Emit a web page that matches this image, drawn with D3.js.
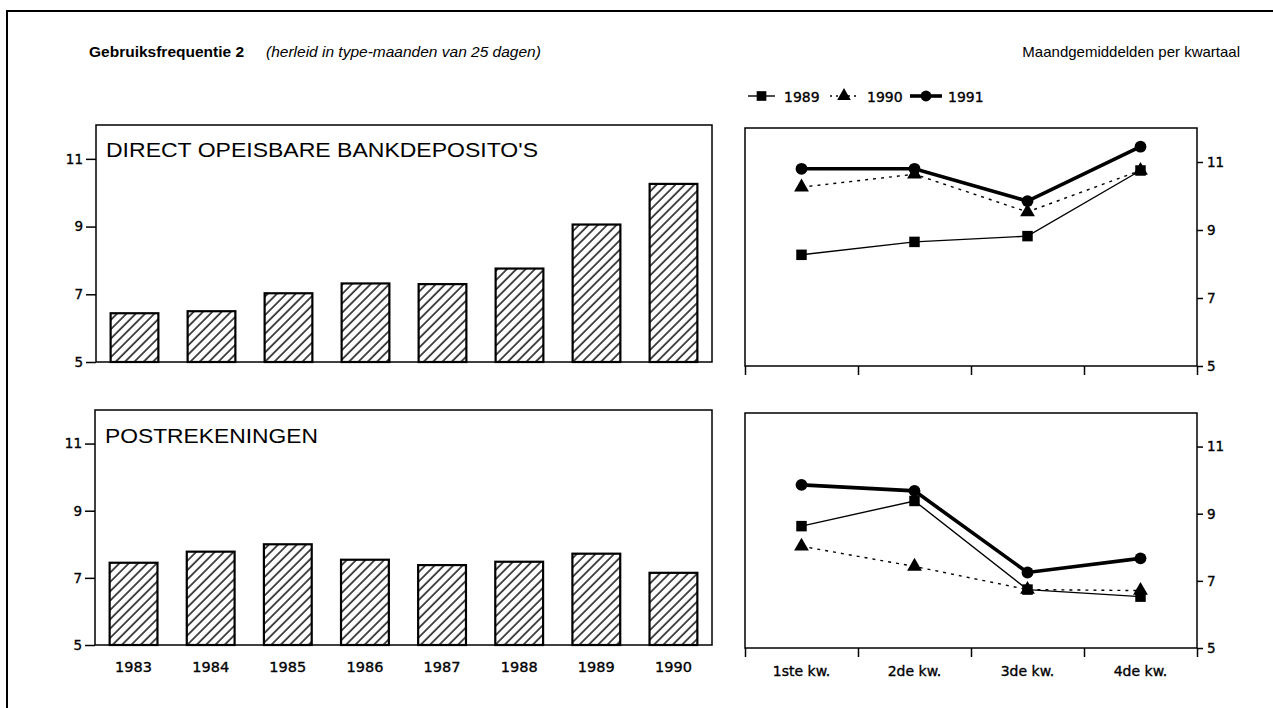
<!DOCTYPE html>
<html>
<head>
<meta charset="utf-8">
<script src="https://cdn.jsdelivr.net/npm/d3@7"></script>
<style>
  body { margin: 0; background: #fff; }
  svg { display: block; font-family: "Liberation Sans", Arial, sans-serif; }
  .axis text, .legend text { fill: #000; font-family: "DejaVu Sans", sans-serif; stroke: #000; stroke-width: 0.35; }
  .axis line, .axis path { stroke: #000; stroke-width: 1.5; }
</style>
</head>
<body>
<svg id="chart" width="1273" height="708"></svg>
<script>
// values
const years = ['1983', '1984', '1985', '1986', '1987', '1988', '1989', '1990'];
const bankBars = [6.44, 6.5, 7.03, 7.32, 7.3, 7.76, 9.06, 10.26];
const postBars = [7.45, 7.78, 8.0, 7.54, 7.38, 7.48, 7.72, 7.15];

const quarters = ['1ste kw.', '2de kw.', '3de kw.', '4de kw.'];
const bank1989 = [8.27, 8.65, 8.82, 10.75];
const bank1990 = [10.26, 10.64, 9.53, 10.75];
const bank1991 = [10.8, 10.8, 9.85, 11.45];
const post1989 = [8.63, 9.38, 6.74, 6.53];
const post1990 = [8.03, 7.43, 6.74, 6.71];
const post1991 = [9.86, 9.68, 7.25, 7.67];

const yTicks = [5, 7, 9, 11];
const yDomain = [5, 12];

const seriesStyle = {
  1989: { width: 1.4, dash: null, symbol: d3.symbolSquare, size: 110 },
  1990: { width: 1.4, dash: '3,5', symbol: d3.symbolTriangle, size: 95 },
  1991: { width: 3.6, dash: null, symbol: d3.symbolCircle, size: 110 },
};

const svg = d3.select('#chart');

// hatch fill for bars
svg.append('defs').append('pattern')
    .attr('id', 'hatch')
    .attr('patternUnits', 'userSpaceOnUse')
    .attr('width', 6.6)
    .attr('height', 6.6)
    .attr('patternTransform', 'rotate(45)')
  .append('line')
    .attr('x1', 1).attr('y1', 0)
    .attr('x2', 1).attr('y2', 6.6)
    .attr('stroke', '#000')
    .attr('stroke-width', 1.4);

// page frame (top and left edge only, like the scan)
svg.append('path')
  .attr('d', 'M7,708 V11 H1273')
  .attr('fill', 'none')
  .attr('stroke', '#000')
  .attr('stroke-width', 2);

// headings
svg.append('text')
  .attr('x', 89).attr('y', 57)
  .attr('font-size', 15.5).attr('font-weight', 'bold')
  .text('Gebruiksfrequentie 2');
svg.append('text')
  .attr('x', 266).attr('y', 57)
  .attr('font-size', 15.5).attr('font-style', 'italic')
  .text('(herleid in type-maanden van 25 dagen)');
svg.append('text')
  .attr('x', 1240).attr('y', 57)
  .attr('font-size', 15).attr('text-anchor', 'end')
  .text('Maandgemiddelden per kwartaal');

function barPanel({ top, bottom, left, right, title, titleW, values, titleY, showYears }) {
  const g = svg.append('g');
  const y = d3.scaleLinear().domain(yDomain).range([bottom, top]);
  const x = d3.scaleBand().domain(years).range([left, right])
    .paddingInner(0.38).paddingOuter(0.19);

  g.append('rect')
    .attr('x', left).attr('y', top)
    .attr('width', right - left).attr('height', bottom - top)
    .attr('fill', 'none').attr('stroke', '#000').attr('stroke-width', 1.5);

  const yAxis = g.append('g')
    .attr('class', 'axis')
    .attr('transform', `translate(${left},0)`)
    .call(d3.axisLeft(y).tickValues(yTicks).tickFormat(d3.format('d')).tickSize(10).tickPadding(3));
  yAxis.select('.domain').remove();
  yAxis.selectAll('text').attr('font-size', 13.5);

  g.selectAll('.bar').data(values).join('rect')
    .attr('class', 'bar')
    .attr('x', (d, i) => x(years[i]))
    .attr('y', d => y(d))
    .attr('width', x.bandwidth())
    .attr('height', d => y(yDomain[0]) - y(d))
    .attr('fill', 'url(#hatch)')
    .attr('stroke', '#000')
    .attr('stroke-width', 2.2);

  g.append('text')
    .attr('x', left + 10).attr('y', titleY)
    .attr('font-size', 20)
    .attr('textLength', titleW)
    .attr('lengthAdjust', 'spacingAndGlyphs')
    .text(title);

  if (showYears) {
    const xAxis = g.append('g')
      .attr('class', 'axis')
      .attr('transform', `translate(0,${bottom})`)
      .call(d3.axisBottom(x).tickSize(0).tickPadding(17));
    xAxis.select('.domain').remove();
    xAxis.selectAll('text').attr('font-size', 14.5);
  }
}

function linePanel({ top, bottom, left, right, series, showQuarters, legend }) {
  const g = svg.append('g');
  const y = d3.scaleLinear().domain(yDomain).range([bottom, top]);
  const x = d3.scaleBand().domain(quarters).range([left, right]);
  const edges = d3.scaleLinear().domain([0, quarters.length]).range([left, right]);

  g.append('rect')
    .attr('x', left).attr('y', top)
    .attr('width', right - left).attr('height', bottom - top)
    .attr('fill', 'none').attr('stroke', '#000').attr('stroke-width', 1.5);

  const yAxis = g.append('g')
    .attr('class', 'axis')
    .attr('transform', `translate(${right},0)`)
    .call(d3.axisRight(y).tickValues(yTicks).tickFormat(d3.format('d')).tickSize(6).tickPadding(4));
  yAxis.select('.domain').remove();
  yAxis.selectAll('text').attr('font-size', 13.5);

  const tickAxis = g.append('g')
    .attr('class', 'axis')
    .attr('transform', `translate(0,${bottom})`)
    .call(d3.axisBottom(edges).tickValues(d3.range(quarters.length + 1)).tickSize(9).tickFormat(''));
  tickAxis.select('.domain').remove();

  if (showQuarters) {
    const xAxis = g.append('g')
      .attr('class', 'axis')
      .attr('transform', `translate(0,${bottom})`)
      .call(d3.axisBottom(x).tickSize(0).tickPadding(18));
    xAxis.select('.domain').remove();
    xAxis.selectAll('text').attr('font-size', 14);
  }

  const line = d3.line()
    .x((d, i) => x(quarters[i]) + x.bandwidth() / 2)
    .y(d => y(d));

  series.forEach(({ key, values }) => {
    const st = seriesStyle[key];
    g.append('path')
      .datum(values)
      .attr('d', line)
      .attr('fill', 'none')
      .attr('stroke', '#000')
      .attr('stroke-width', st.width)
      .attr('stroke-dasharray', st.dash);
    g.selectAll(null).data(values).join('path')
      .attr('transform', (d, i) => `translate(${x(quarters[i]) + x.bandwidth() / 2},${y(d)})`)
      .attr('d', d3.symbol(st.symbol, st.size))
      .attr('fill', '#000');
  });

  if (legend) {
    const entries = [
      { key: 1989, lineX: 748, lineW: 27, textX: 784 },
      { key: 1990, lineX: 830, lineW: 28, textX: 867 },
      { key: 1991, lineX: 910, lineW: 32, textX: 948 },
    ];
    const ly = 96;
    const lg = g.append('g').attr('class', 'legend');
    entries.forEach(e => {
      const st = seriesStyle[e.key];
      lg.append('line')
        .attr('x1', e.lineX).attr('x2', e.lineX + e.lineW)
        .attr('y1', ly).attr('y2', ly)
        .attr('stroke', '#000')
        .attr('stroke-width', st.width)
        .attr('stroke-dasharray', e.key === 1990 ? '2,4' : null);
      lg.append('path')
        .attr('transform', `translate(${e.lineX + e.lineW / 2},${ly})`)
        .attr('d', d3.symbol(st.symbol, st.size * 0.85))
        .attr('fill', '#000');
      lg.append('text')
        .attr('x', e.textX).attr('y', ly + 5.5)
        .attr('font-size', 14)
        .text(e.key);
    });
  }
}

barPanel({
  top: 125, bottom: 362, left: 96, right: 712, titleY: 157, titleW: 432,
  title: "DIRECT OPEISBARE BANKDEPOSITO'S", values: bankBars, showYears: false,
});
barPanel({
  top: 410, bottom: 645, left: 95, right: 712, titleY: 443, titleW: 213,
  title: 'POSTREKENINGEN', values: postBars, showYears: true,
});

linePanel({
  top: 128, bottom: 366, left: 745, right: 1197, legend: true, showQuarters: false,
  series: [
    { key: 1991, values: bank1991 },
    { key: 1990, values: bank1990 },
    { key: 1989, values: bank1989 },
  ],
});
linePanel({
  top: 413, bottom: 648, left: 745, right: 1197, legend: false, showQuarters: true,
  series: [
    { key: 1991, values: post1991 },
    { key: 1990, values: post1990 },
    { key: 1989, values: post1989 },
  ],
});
</script>
</body>
</html>
